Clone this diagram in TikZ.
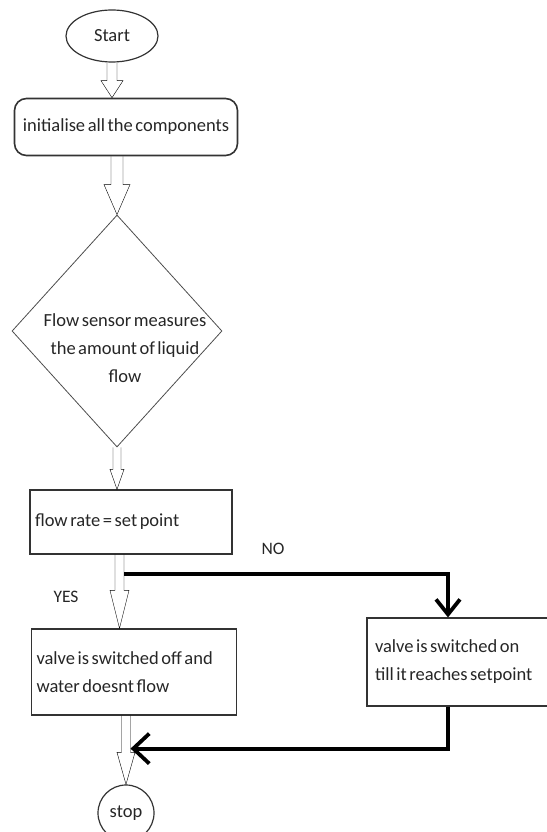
\documentclass[tikz,border=0pt]{standalone}
\usepackage{fontspec}
\setmainfont{Carlito}[WordSpace=0.6]
\usetikzlibrary{shapes.geometric,arrows.meta,calc}

\begin{document}
\begin{tikzpicture}[x=1pt,y=-1pt,
  every node/.style={font=\fontsize{18.5}{28}\selectfont,text=black!85},
  box/.style={draw=black!80,line width=1.2pt,inner xsep=5pt,align=left,
    execute at begin node={\spaceskip=0.14em plus 0.05em\hyphenpenalty=10000\relax}},
  hollow/.style n args={3}{draw=black!75,line width=0.8pt,to path={
    let \p1=(\tikztostart), \p2=(\tikztotarget) in
    (\x1-#1,\y1) -- (\x1-#1,\y2+#3) -- (\x1-#2,\y2+#3) -- (\x1,\y2)
    -- (\x1+#2,\y2+#3) -- (\x1+#1,\y2+#3) -- (\x1+#1,\y1)}},
  flowline/.style={line width=3.8pt,-{Straight Barb[length=#1]}}]
  \useasboundingbox (0,0) rectangle (546,832);
  \node[ellipse,draw=black!80,line width=1.2pt,minimum width=92pt,minimum height=52pt,inner sep=0pt] (start) at (112,36) {Start};
  \node[box,rounded corners=12pt,line width=1.6pt,minimum width=223pt,minimum height=57pt,inner sep=0pt] (init) at (126,127) {initialise all the components};
  \node[diamond,draw=black!70,line width=0.8pt,minimum width=210pt,minimum height=232pt,inner sep=0pt] (sense) at (117,331) {};
  \node[align=center] (sensetxt) at (125,348) {Flow sensor measures\\the amount of liquid\\flow};
  \node[box,text width=192pt,minimum height=64pt] (rate) at (131,522) {flow rate = set point};
  \node[box,text width=195pt,minimum height=86pt] (valve) at (134,672) {valve is switched off and\\water doesnt flow};
  \node[box,inner xsep=8pt,text width=166pt,minimum height=88pt] (onbox) at (458,662) {valve is switched on\\till it reaches setpoint};
  \node[font=\fontsize{17.5}{20}\selectfont] (no) at (273,549) {NO};
  \node[font=\fontsize{17.5}{20}\selectfont] (yes) at (66,597) {YES};
  \node[circle,draw=black!80,line width=1.2pt,minimum size=56pt,inner sep=0pt] (stop) at (126,813) {stop};
  % hollow arrows down the main column
  \draw (start.south) to[hollow={5pt}{11pt}{17pt}] (init.north);
  \draw (sense.north |- init.south) to[hollow={6pt}{13pt}{30pt}] (sense.north);
  \draw (sense.south) to[hollow={4pt}{7pt}{20pt}] (sense.south |- rate.north);
  \draw ([xshift=2.5pt]sense.south |- rate.south) to[hollow={4.5pt}{9.5pt}{38pt}] ([xshift=2.5pt]sense.south |- valve.north);
  \draw (stop |- valve.south) to[hollow={4.5pt}{9pt}{32pt}] (stop.north);
  % NO branch and way back
  \coordinate (split) at ($(sense.south |- rate.south)+(7,19)$);
  \coordinate (merge) at ($(stop |- valve.south)+(4.5,33)$);
  \draw[flowline={15pt,width=24pt}] (split) -| ([xshift=-10pt]onbox.north);
  \draw[flowline={16pt,width=30pt}] ([xshift=-10pt]onbox.south) |- (merge);
\end{tikzpicture}
\end{document}
